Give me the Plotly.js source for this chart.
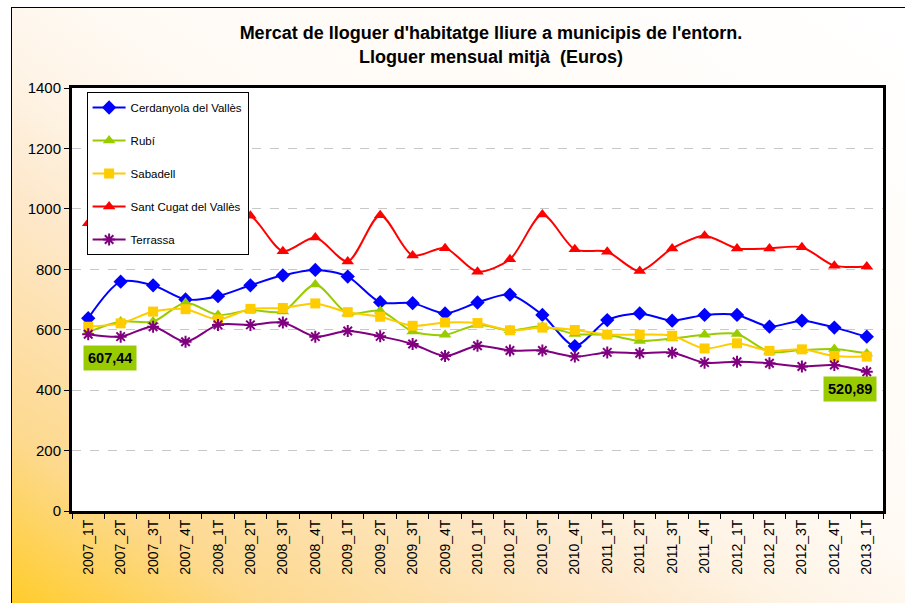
<!DOCTYPE html>
<html><head><meta charset="utf-8">
<script src="https://cdn.plot.ly/plotly-3.0.1.min.js"></script>
<style>
html,body{margin:0;padding:0;background:#fff;overflow:hidden;width:905px;height:603px}
#frame{position:absolute;left:11px;top:7px;width:910px;height:610px;border:1px solid #000;
background:linear-gradient(to top right,#ffcb22 0%,#fdd98e 15%,#fde8cb 35%,#fef4e6 45%,#fffaf4 55%,#ffffff 100%);}
#chart{position:absolute;left:0;top:0;width:905px;height:603px}
</style></head><body>
<div id="frame"></div><div id="chart"></div>
<script>
const categories = ['2007_1T','2007_2T','2007_3T','2007_4T','2008_1T','2008_2T','2008_3T','2008_4T',
  '2009_1T','2009_2T','2009_3T','2009_4T','2010_1T','2010_2T','2010_3T','2010_4T',
  '2011_1T','2011_2T','2011_3T','2011_4T','2012_1T','2012_2T','2012_3T','2012_4T','2013_1T'];

const cerdanyola = [638, 759, 747, 700, 711, 747, 780, 798, 776, 691, 688, 654, 690, 716, 649, 546, 632, 654, 630, 649, 649, 610, 630, 607, 577];
const rubi       = [592, 627, 627, 689, 649, 665, 660, 750, 654, 663, 594, 583, 616, 598, 611, 586, 583, 563, 571, 583, 586, 527, 533, 536, 521];
const sabadell   = [610, 621, 660, 668, 634, 669, 672, 687, 658, 643, 613, 624, 622, 598, 607, 599, 584, 584, 580, 538, 555, 530, 535, 513, 511];
const santCugat  = [952, 975, 960, 940, 990, 977, 860, 905, 826, 979, 846, 870, 792, 833, 981, 866, 858, 794, 869, 911, 869, 869, 873, 812, 809];
const terrassa   = [585, 577, 610, 560, 616, 616, 624, 577, 596, 578, 553, 513, 547, 531, 531, 511, 525, 522, 524, 491, 494, 489, 478, 483, 461];

const seriesNames = ['Cerdanyola del Vallès','Rubí','Sabadell','Sant Cugat del Vallès','Terrassa'];
const seriesValues = [cerdanyola, rubi, sabadell, santCugat, terrassa];
const labelTexts = ['607,44', '520,89'];
const labelValues = [506, 405];

const colors = ['#0000ff','#99cc00','#ffcc00','#ff0000','#800080'];
const symbols = ['diamond','triangle-up','square','triangle-up','asterisk-open'];
const sizes = [11, 11, 10, 11, 10];
const FONT = 'Liberation Sans, Arial, sans-serif';

const traces = seriesNames.map((n,i)=>({
  x: categories, y: seriesValues[i], name: n, type:'scatter', mode:'lines+markers',
  legendgroup: 'g'+i,
  line:{color:colors[i], width:2, shape:'spline', smoothing:0.8},
  marker:{symbol:symbols[i], size:sizes[i], color:colors[i],
          line:{color:colors[i], width: i===4?2:0}}
}));

const layout = {
  width:905, height:603,
  margin:{l:72, r:22, t:88, b:92},
  paper_bgcolor:'rgba(0,0,0,0)', plot_bgcolor:'#ffffff',
  font:{family:FONT, color:'#000'},
  title:{text:"Mercat de lloguer d'habitatge lliure a municipis de l'entorn.<br>Lloguer mensual mitjà\u00a0 (Euros)",
    font:{family:FONT, size:18, weight:'bold', color:'#000'},
    x:0.5425, xanchor:'center', xref:'container', y:0.935, yanchor:'top', yref:'container'},
  xaxis:{type:'category', range:[-0.5,24.5], tickangle:-90, ticks:'outside', tickson:'boundaries',
    ticklen:5, tickcolor:'#000', showline:true, linewidth:3, linecolor:'#000', mirror:true,
    showgrid:false, tickfont:{family:FONT, size:14, color:'#000'}},
  yaxis:{range:[0,1400], tick0:0, dtick:200, ticks:'outside', ticklen:5, tickcolor:'#000',
    showline:true, linewidth:3, linecolor:'#000', mirror:true, zeroline:false,
    gridcolor:'#c8c8c8', griddash:'dash', gridwidth:1, tickfont:{family:FONT, size:15, color:'#000'}},
  legend:{x:0.018, y:0.9905, xanchor:'left', yanchor:'top', bgcolor:'#ffffff', bordercolor:'#000',
    borderwidth:1, font:{family:FONT, size:11.5, color:'#000'}, traceorder:'grouped', tracegroupgap:14,
    itemwidth:33},
  annotations:[
    {xref:'paper', x:(110-72)/811, xanchor:'center', yref:'y', y:labelValues[0], yanchor:'middle',
     text:labelTexts[0], showarrow:false,
     bgcolor:'#99cc00', borderpad:4, font:{family:FONT, size:14.5, weight:'bold', color:'#000'}},
    {xref:'paper', x:(850-72)/811, xanchor:'center', yref:'y', y:labelValues[1], yanchor:'middle',
     text:labelTexts[1], showarrow:false,
     bgcolor:'#99cc00', borderpad:4, font:{family:FONT, size:14.5, weight:'bold', color:'#000'}}
  ],
  showlegend:true
};
Plotly.newPlot('chart', traces, layout, {displayModeBar:false, staticPlot:true});
</script>
</body></html>
